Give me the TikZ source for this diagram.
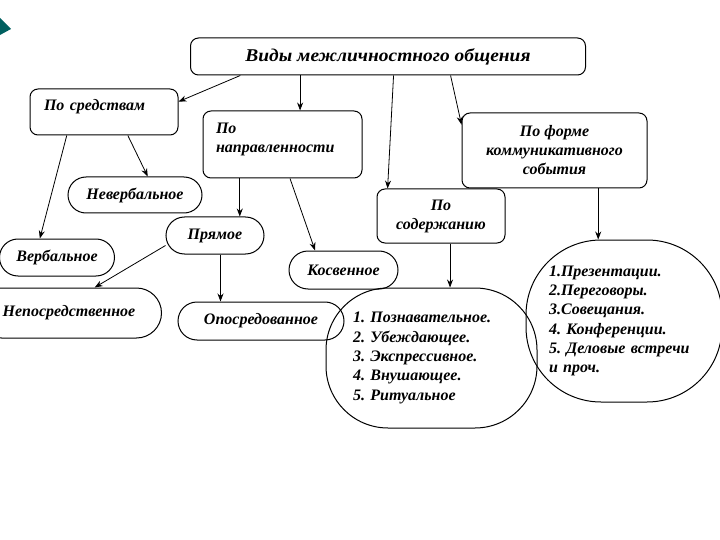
\documentclass[tikz,border=0pt]{standalone}
\usepackage{fontspec}
\setmainfont{Liberation Serif}
\usetikzlibrary{calc}
\usetikzlibrary{arrows.meta}
\usetikzlibrary{shapes.misc}
\frenchspacing

\begin{document}
\begin{tikzpicture}[x=1pt,y=-1pt,
  box/.style={draw, line width=1pt, rounded corners=8pt, inner sep=0pt, font=\fontsize{16}{19}\selectfont\bfseries\itshape},
  pill/.style={draw, line width=1pt, rounded rectangle, inner sep=0pt, font=\fontsize{16}{19}\selectfont\bfseries\itshape},
  blob/.style={draw, line width=1pt, align=left, inner sep=0pt, font=\fontsize{16}{19.3}\selectfont\bfseries\itshape},
  >={Stealth[length=8pt,width=6pt]}]
\useasboundingbox (0,0) rectangle (720,540);
\fill[teal!75!black] (0,18)--(11,29)--(0,35)--cycle;

% boxes
\node[box, minimum width=395, minimum height=37, font=\fontsize{18}{19}\selectfont\bfseries\itshape\addfontfeature{FakeStretch=1.08}] (title) at (388,56.5) {Виды межличностного общения};
\node[box, minimum width=148, minimum height=46, text width=120, align=left, text depth=14pt] (sred) at (104,112) {По средствам};
\node[box, minimum width=159, minimum height=67, text width=133, align=left, text depth=32pt] (napr) at (282.5,144.5) {По\\направленности};
\node[box, minimum width=128, minimum height=54, align=center] (sod) at (441,216) {По\\содержанию};
\node[box, minimum width=185, minimum height=75, align=center] (form) at (554.5,150.5) {По форме\\коммуникативного\\события};

% pills
\node[pill, minimum width=134, minimum height=36] (neverb) at (135,195) {Невербальное};
\node[pill, minimum width=98, minimum height=37] (pryam) at (215,235.5) {Прямое};
\node[pill, minimum width=115, minimum height=37] (verb) at (57,257.5) {Вербальное};
\node[pill, minimum width=109, minimum height=38] (kosv) at (343.5,270) {Косвенное};
\node[pill, minimum width=185, minimum height=50] (neposr) at (69,313) {Непосредственное};
\node[pill, minimum width=166, minimum height=38] (oposr) at (261,321) {Опосредованное};

% lists
\node[blob, rounded corners=62pt, minimum width=211, minimum height=140, text width=157] (sodlist) at (431.5,358) {1. Познавательное.\\2. Убеждающее.\\3. Экспрессивное.\\4. Внушающее.\\5. Ритуальное};
\node[blob, rounded corners=75pt, minimum width=196, minimum height=162, text width=150] (formlist) at (624,321) {1.Презентации.\\2.Переговоры.\\3.Совещания.\\4. Конференции.\\5. Деловые встречи\\и проч.};

% arrows
\coordinate (t1) at ($(title.south west)!.127!(title.south east)$);
\coordinate (t2) at ($(title.south west)!.278!(title.south east)$);
\coordinate (t3) at ($(title.south west)!.514!(title.south east)$);
\coordinate (t4) at ($(title.south west)!.658!(title.south east)$);
\draw[->, line width=.8pt] (t1) -- ($(sred.north east)!.28!(sred.south east)$);
\draw[->, line width=.8pt] (t2) -- (t2 |- napr.north);
\draw[->, line width=.8pt] (t3) -- ($(sod.north west)!.086!(sod.north east)$);
\draw[->, line width=.8pt] (t4) -- ($(form.north west)!.16!(form.south west)$);

\draw[->, line width=.8pt] ($(sred.south west)!.25!(sred.south east)$) -- ($(verb.north west)!.28!(verb.north east)$);
\draw[->, line width=.8pt] ($(sred.south west)!.66!(sred.south east)$) -- ($(neverb.north west)!.63!(neverb.north east)$);

\coordinate (n1) at ($(napr.south west)!.233!(napr.south east)$);
\draw[->, line width=.8pt] (n1) -- (n1 |- pryam.north);
\draw[->, line width=.8pt] ($(napr.south west)!.547!(napr.south east)$) -- ($(kosv.north west)!.1!(kosv.north east)$);

\draw[->, line width=.8pt] ($(pryam.west)+(0,10)$) -- ($(neposr.north west)!.69!(neposr.north east)$);
\coordinate (p1) at ($(pryam.south west)!.59!(pryam.south east)$);
\draw[->, line width=.8pt] (p1) -- (p1 |- oposr.north);

\coordinate (s1) at ($(sod.south west)!.57!(sod.south east)$);
\draw[->, line width=.8pt] (s1) -- (s1 |- sodlist.north);
\coordinate (f1) at ($(form.south west)!.735!(form.south east)$);
\draw[->, line width=.8pt] (f1) -- (f1 |- formlist.north);
\end{tikzpicture}
\end{document}
